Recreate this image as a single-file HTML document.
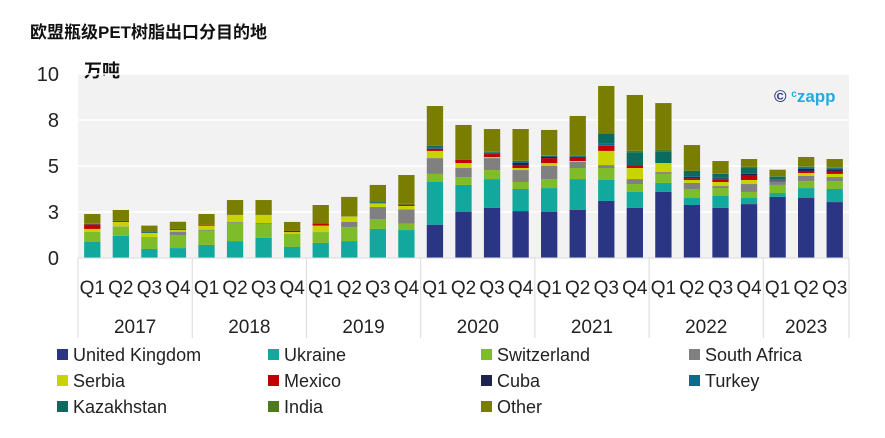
<!DOCTYPE html>
<html><head><meta charset="utf-8"><style>
body{margin:0;background:#fff;}
svg text{font-family:"Liberation Sans","Noto Sans CJK SC",sans-serif;}
</style></head><body>
<svg id="chart" width="885" height="433" xmlns="http://www.w3.org/2000/svg">
<text x="30" y="38" font-size="17" font-weight="bold" fill="#111">欧盟瓶级PET树脂出口分目的地</text>
<rect x="78" y="74" width="771" height="184" fill="#f2f2f2"/>
<text x="84" y="77" font-size="18" font-weight="bold" fill="#111">万吨</text>
<text x="774" y="102" font-size="17" font-weight="bold" fill="#29a8e0"><tspan fill="#2a3583">©</tspan> <tspan font-size="10" dy="-5">c</tspan><tspan dy="5">zapp</tspan></text>
<g id="grid"></g><g id="bars"></g><g id="xaxis"></g>
<g id="legend"></g>
</svg>
<script>
const quarters=["Q1","Q2","Q3","Q4","Q1","Q2","Q3","Q4","Q1","Q2","Q3","Q4","Q1","Q2","Q3","Q4","Q1","Q2","Q3","Q4","Q1","Q2","Q3","Q4","Q1","Q2","Q3"];
const years=["2017","2018","2019","2020","2021","2022","2023"];
const yearCounts=[4,4,4,4,4,4,3];
const yTicks=[0,2.5,5,7.5,10];
const yTickLabels=["0","3","5","8","10"];
const seriesNames=["United Kingdom","Ukraine","Switzerland","South Africa","Serbia","Mexico","Cuba","Turkey","Kazakhstan","India","Other"];
const ukValues=[0,0,0,0,0,0,0,0,0,0,0,0,1.81,2.50,2.72,2.55,2.50,2.61,3.10,2.72,3.59,2.88,2.72,2.93,3.32,3.26,3.04];
const ukraineValues=[.89,1.21,.49,.54,.71,.92,1.09,.60,.82,.92,1.58,1.52,2.32,1.47,1.57,1.20,1.30,1.68,1.14,.87,.49,.38,.65,.33,.21,.54,.71];
const switzerlandValues=[.54,.49,.65,.71,.78,1.00,.76,.72,.59,.76,.54,.35,.44,.43,.49,.38,.49,.60,.65,.43,.49,.49,.43,.33,.44,.38,.43];
const southAfricaValues=[0,.02,0,.18,.05,.05,.05,0,0,.28,.65,.77,.86,.49,.65,.65,.71,.33,.16,.27,.10,.33,.11,.43,.16,.28,.22];
const serbiaValues=[.15,.24,.22,.09,.22,.37,.44,.09,.35,.29,.20,.19,.39,.27,.06,.11,.16,.05,.77,.60,.49,.16,.22,.22,.02,.16,.17];
const mexicoValues=[.25,.05,0,0,.05,0,0,.06,.11,0,0,.07,.12,.17,.16,.16,.27,.22,.28,.11,0,.09,.15,.27,.05,.11,.16];
const cubaValues=[0,0,0,0,0,0,0,0,0,0,0,0,0,0,0,.13,.08,0,0,.04,0,.07,.05,.06,.03,.11,.09];
const turkeyValues=[.03,0,.05,.06,0,0,0,0,0,0,.07,0,.07,.03,.09,.09,.05,.05,.13,0,0,.05,.05,.05,.05,.06,.05];
const kazakhstanValues=[0,0,0,0,0,0,0,0,0,0,0,0,.09,0,0,0,0,0,.51,.70,.64,.28,.19,.27,.14,.06,.04];
const indiaValues=[.02,.02,0,0,0,.02,.02,0,0,.02,0,.05,0,0,.03,.02,.02,.02,.05,.09,.09,.02,.03,.07,.03,.02,.02];
const otherValues=[.51,.58,.35,.39,.58,.79,.79,.49,1.01,1.05,.93,1.56,2.16,1.87,1.24,1.72,1.38,2.16,2.56,3.03,2.53,1.39,.67,.42,.35,.51,.45];
const allSeries=[ukValues,ukraineValues,switzerlandValues,southAfricaValues,serbiaValues,mexicoValues,cubaValues,turkeyValues,kazakhstanValues,indiaValues,otherValues];
const colors=["#2a3583","#13a89e","#7fbc2a","#808080","#c8d400","#c00000","#1d2350","#0d6a8a","#0b6b5e","#4d7a1e","#7a7e00"];
const NS="http://www.w3.org/2000/svg";
const X0=78,X1=849,Y0=258,Y1=74,YMAX=10;
const slot=(X1-X0)/quarters.length,bw=16.3;
const yS=v=>Y0-v/YMAX*(Y0-Y1);
const xS=i=>X0+slot*i+slot/2;
function mk(tag,attrs,parent){const e=document.createElementNS(NS,tag);for(const k in attrs)e.setAttribute(k,attrs[k]);parent.appendChild(e);return e;}
const grid=document.getElementById('grid');
yTicks.forEach((t,i)=>{
 if(i>0){const l=mk('line',{x1:X0,x2:X1,y1:yS(t),y2:yS(t),stroke:'#fff','stroke-width':1.5},grid);
 
 }
 const tx=mk('text',{x:59,y:yS(t)+7,'text-anchor':'end','font-size':20,fill:'#222'},grid);tx.textContent=yTickLabels[i];
 
 
});
const bars=document.getElementById('bars');
quarters.forEach((q,i)=>{
 let cum=0;
 allSeries.forEach((s,k)=>{
  const v=s[i];if(v<=0)return;
  const r=mk('rect',{x:xS(i)-bw/2,y:yS(cum+v),width:bw,height:yS(cum)-yS(cum+v),fill:colors[k]},bars);
  
  
  cum+=v;
 });
});
const xa=document.getElementById('xaxis');
mk('line',{x1:X0,x2:X1,y1:Y0,y2:Y0,stroke:'#d9d9d9','stroke-width':1},xa);
quarters.forEach((q,i)=>{const t=mk('text',{x:xS(i),y:294,'text-anchor':'middle','font-size':19,fill:'#222'},xa);t.textContent=q;
 
 });
let start=0;
mk('line',{x1:X0,x2:X0,y1:Y0,y2:338,stroke:'#d9d9d9'},xa);
years.forEach((y,j)=>{
 const end=start+yearCounts[j];
 const xe=X0+slot*end;
 const l=mk('line',{x1:xe,x2:xe,y1:Y0,y2:338,stroke:'#d9d9d9'},xa);
 
 
 const t=mk('text',{x:(X0+slot*start+xe)/2,y:333,'text-anchor':'middle','font-size':19,fill:'#222'},xa);t.textContent=y;
 
 
 start=end;
});
const lg=document.getElementById('legend');
const colX=[57,268,481,689],rowY=[355,381,407];
seriesNames.forEach((n,k)=>{
 const cx=colX[k%4],cy=rowY[Math.floor(k/4)];
 const g=mk('g',{},lg);
 
 
 mk('rect',{x:cx,y:cy-6,width:11,height:11,fill:colors[k]},g);
 const t=mk('text',{x:cx+16,y:cy+6,'font-size':18,fill:'#222'},g);t.textContent=n;
});
</script>
</body></html>
